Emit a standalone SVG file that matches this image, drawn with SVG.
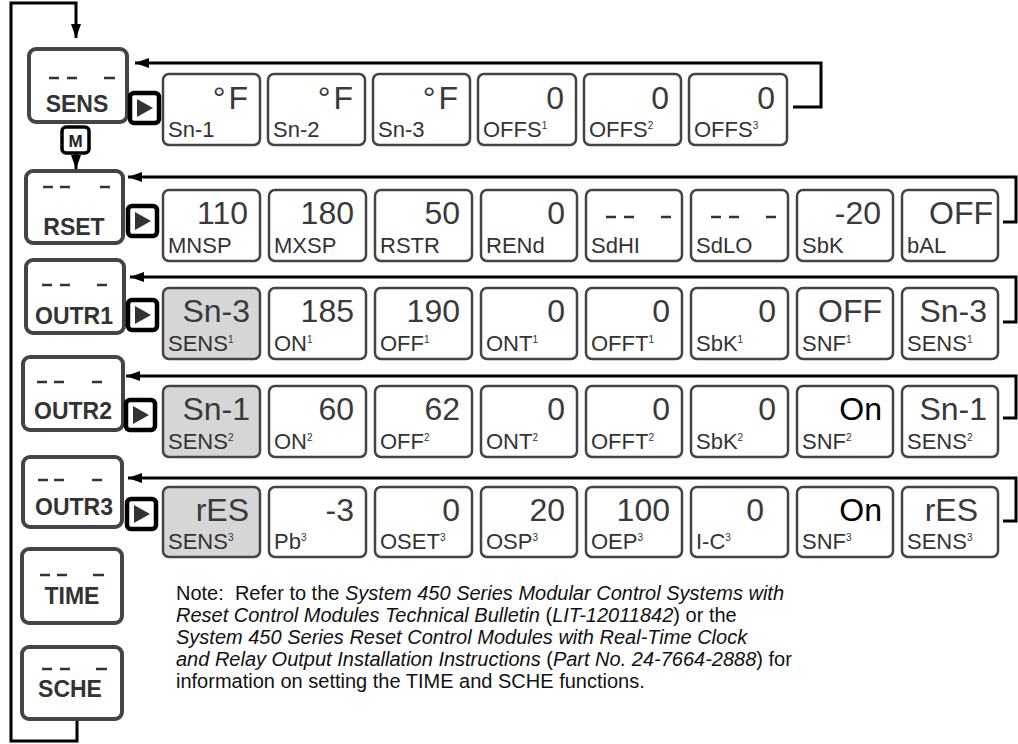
<svg xmlns="http://www.w3.org/2000/svg" width="1018" height="744" viewBox="0 0 1018 744">
<style>
.lb{fill:#fff;stroke:#444;stroke-width:4}
.vb{fill:#fff;stroke:#444;stroke-width:2.5}
.gb{fill:#d6d6d6;stroke:#444;stroke-width:2.5}
.btn{fill:#fff;stroke:#000;stroke-width:4.5}
.tri{fill:#333}
.ln{fill:none;stroke:#000;stroke-width:3}
.dash{fill:none;stroke:#333;stroke-width:2.6}
.ltx{font-family:"Liberation Sans",Arial,sans-serif;font-weight:bold;font-size:23px;fill:#333;text-anchor:middle}
.val{font-family:"Liberation Sans",Arial,sans-serif;font-size:32px;fill:#3a3a3a;text-anchor:end}
.blk{fill:#000}
.lab{font-family:"Liberation Sans",Arial,sans-serif;font-size:22px;fill:#333}
.sup{font-size:10px}
.note{font-family:"Liberation Sans",Arial,sans-serif;font-size:20px;fill:#111}
.it{font-style:italic}
</style>
<defs>
<marker id="ah" viewBox="0 0 14 10" refX="14" refY="5" markerWidth="14" markerHeight="10" markerUnits="userSpaceOnUse" orient="auto">
<path d="M0,0 L14,5 L0,10 z" fill="#000"/>
</marker>
<g id="btn">
<rect class="btn" x="0" y="0" width="29" height="30" rx="4"/>
<path class="tri" d="M7,6 L7,24 L23,15 z"/>
</g>
</defs>

<g id="connectors">
<polyline class="ln" points="77,719 77,741 11,741 11,3 76,3 76,38" marker-end="url(#ah)"/>
<line class="ln" x1="76" y1="153" x2="76" y2="169" marker-end="url(#ah)"/>
<polyline class="ln" points="793,107 821,107 821,63 135,63" marker-end="url(#ah)"/>
<polyline class="ln" points="1003,222 1016,222 1016,177 128,177" marker-end="url(#ah)"/>
<polyline class="ln" points="1003,322 1016,322 1016,277 130,277" marker-end="url(#ah)"/>
<polyline class="ln" points="1003,418 1016,418 1016,376 126,376" marker-end="url(#ah)"/>
<polyline class="ln" points="1003,521 1016,521 1016,478 128,478" marker-end="url(#ah)"/>
</g>

<!-- left menu boxes -->
<g id="sens">
<rect class="lb" x="29" y="49" width="98" height="73" rx="7"/>
<path class="dash" d="M49,78 h10 M67,78 h10 M104,78 h11"/>
<text class="ltx" x="77" y="112">SENS</text>
</g>
<g id="m-button">
<rect x="62" y="127" width="27" height="26" rx="4" fill="#fff" stroke="#000" stroke-width="3.5"/>
<text x="75.5" y="147" font-family="Liberation Sans,Arial,sans-serif" font-weight="bold" font-size="17" fill="#222" text-anchor="middle">M</text>
</g>
<g id="rset">
<rect class="lb" x="26" y="171" width="97" height="72" rx="7"/>
<path class="dash" d="M43,187 h10 M60,187 h10 M100,187 h10"/>
<text class="ltx" x="74" y="235">RSET</text>
</g>
<g id="outr1">
<rect class="lb" x="26" y="260" width="98" height="73" rx="7"/>
<path class="dash" d="M42,285 h10 M60,285 h10 M97,285 h10"/>
<text class="ltx" x="74" y="324">OUTR1</text>
</g>
<g id="outr2">
<rect class="lb" x="23" y="357" width="100" height="73" rx="7"/>
<path class="dash" d="M37,382 h10 M54,382 h10 M92,382 h10"/>
<text class="ltx" x="73" y="419">OUTR2</text>
</g>
<g id="outr3">
<rect class="lb" x="23" y="457" width="99" height="70" rx="7"/>
<path class="dash" d="M38,480 h10 M54,480 h10 M92,480 h10"/>
<text class="ltx" x="74" y="515">OUTR3</text>
</g>
<g id="time">
<rect class="lb" x="22" y="549" width="100" height="74" rx="7"/>
<path class="dash" d="M40,575 h10 M57,575 h10 M93,575 h11"/>
<text class="ltx" x="72" y="604">TIME</text>
</g>
<g id="sche">
<rect class="lb" x="22" y="647" width="100" height="72" rx="7"/>
<path class="dash" d="M42,669 h10 M60,669 h10 M96,669 h11"/>
<text class="ltx" x="70" y="697">SCHE</text>
</g>

<!-- arrow buttons -->
<g id="btn1"><use href="#btn" x="130" y="93"/></g>
<g id="btn2"><use href="#btn" x="128" y="206"/></g>
<g id="btn3"><use href="#btn" x="128" y="300"/></g>
<g id="btn4"><use href="#btn" x="126" y="400"/></g>
<g id="btn5"><use href="#btn" x="127" y="499"/></g>

<!-- row 1 -->
<g id="sn-1"><rect class="vb" x="163" y="74" width="97" height="71" rx="6"/><text class="val" x="248" y="109"><tspan>°</tspan><tspan dx="3">F</tspan></text><text class="lab" x="168" y="137">Sn-1</text></g>
<g id="sn-2"><rect class="vb" x="268" y="74" width="97" height="71" rx="6"/><text class="val" x="353" y="109"><tspan>°</tspan><tspan dx="3">F</tspan></text><text class="lab" x="273" y="137">Sn-2</text></g>
<g id="sn-3"><rect class="vb" x="373" y="74" width="97" height="71" rx="6"/><text class="val" x="458" y="109"><tspan>°</tspan><tspan dx="3">F</tspan></text><text class="lab" x="378" y="137">Sn-3</text></g>
<g id="offs1"><rect class="vb" x="478" y="74" width="98" height="71" rx="6"/><text class="val" x="564" y="109">0</text><text class="lab" x="483" y="137">OFFS<tspan class="sup" dy="-8">1</tspan></text></g>
<g id="offs2"><rect class="vb" x="584" y="74" width="97" height="71" rx="6"/><text class="val" x="669" y="109">0</text><text class="lab" x="589" y="137">OFFS<tspan class="sup" dy="-8">2</tspan></text></g>
<g id="offs3"><rect class="vb" x="689" y="74" width="98" height="71" rx="6"/><text class="val" x="775" y="109">0</text><text class="lab" x="694" y="137">OFFS<tspan class="sup" dy="-8">3</tspan></text></g>

<!-- row 2 -->
<g id="mnsp"><rect class="vb" x="163" y="190" width="97" height="71" rx="6"/><text class="val" x="248" y="224">110</text><text class="lab" x="168" y="253">MNSP</text></g>
<g id="mxsp"><rect class="vb" x="269" y="190" width="97" height="71" rx="6"/><text class="val" x="354" y="224">180</text><text class="lab" x="274" y="253">MXSP</text></g>
<g id="rstr"><rect class="vb" x="375" y="190" width="97" height="71" rx="6"/><text class="val" x="460" y="224">50</text><text class="lab" x="380" y="253">RSTR</text></g>
<g id="rend"><rect class="vb" x="481" y="190" width="96" height="71" rx="6"/><text class="val" x="565" y="224">0</text><text class="lab" x="486" y="253">RENd</text></g>
<g id="sdhi"><rect class="vb" x="586" y="190" width="96" height="71" rx="6"/><path class="dash" d="M606,217 h10 M624,217 h10 M661,217 h10"/><text class="lab" x="591" y="253">SdHI</text></g>
<g id="sdlo"><rect class="vb" x="691" y="190" width="97" height="71" rx="6"/><path class="dash" d="M711,217 h10 M729,217 h10 M766,217 h10"/><text class="lab" x="696" y="253">SdLO</text></g>
<g id="sbk"><rect class="vb" x="797" y="190" width="96" height="71" rx="6"/><text class="val" x="881" y="224">-20</text><text class="lab" x="802" y="253">SbK</text></g>
<g id="bal"><rect class="vb" x="902" y="190" width="96" height="71" rx="6"/><text class="val" x="993" y="224">OFF</text><text class="lab" x="907" y="253">bAL</text></g>

<!-- row 3 -->
<g id="sens1a"><rect class="gb" x="163" y="288" width="97" height="71" rx="6"/><text class="val" x="250" y="322">Sn-3</text><text class="lab" x="168" y="351">SENS<tspan class="sup" dy="-8">1</tspan></text></g>
<g id="on1"><rect class="vb" x="269" y="288" width="97" height="71" rx="6"/><text class="val" x="354" y="322">185</text><text class="lab" x="274" y="351">ON<tspan class="sup" dy="-8">1</tspan></text></g>
<g id="off1"><rect class="vb" x="375" y="288" width="97" height="71" rx="6"/><text class="val" x="460" y="322">190</text><text class="lab" x="380" y="351">OFF<tspan class="sup" dy="-8">1</tspan></text></g>
<g id="ont1"><rect class="vb" x="481" y="288" width="96" height="71" rx="6"/><text class="val" x="565" y="322">0</text><text class="lab" x="486" y="351">ONT<tspan class="sup" dy="-8">1</tspan></text></g>
<g id="offt1"><rect class="vb" x="586" y="288" width="96" height="71" rx="6"/><text class="val" x="670" y="322">0</text><text class="lab" x="591" y="351">OFFT<tspan class="sup" dy="-8">1</tspan></text></g>
<g id="sbk1"><rect class="vb" x="691" y="288" width="97" height="71" rx="6"/><text class="val" x="776" y="322">0</text><text class="lab" x="696" y="351">SbK<tspan class="sup" dy="-8">1</tspan></text></g>
<g id="snf1"><rect class="vb" x="797" y="288" width="96" height="71" rx="6"/><text class="val" x="882" y="322">OFF</text><text class="lab" x="802" y="351">SNF<tspan class="sup" dy="-8">1</tspan></text></g>
<g id="sens1b"><rect class="vb" x="902" y="288" width="96" height="71" rx="6"/><text class="val" x="987" y="322">Sn-3</text><text class="lab" x="907" y="351">SENS<tspan class="sup" dy="-8">1</tspan></text></g>

<!-- row 4 -->
<g id="sens2a"><rect class="gb" x="163" y="386" width="97" height="71" rx="6"/><text class="val" x="250" y="420">Sn-1</text><text class="lab" x="168" y="449">SENS<tspan class="sup" dy="-8">2</tspan></text></g>
<g id="on2"><rect class="vb" x="269" y="386" width="97" height="71" rx="6"/><text class="val" x="354" y="420">60</text><text class="lab" x="274" y="449">ON<tspan class="sup" dy="-8">2</tspan></text></g>
<g id="off2"><rect class="vb" x="375" y="386" width="97" height="71" rx="6"/><text class="val" x="460" y="420">62</text><text class="lab" x="380" y="449">OFF<tspan class="sup" dy="-8">2</tspan></text></g>
<g id="ont2"><rect class="vb" x="481" y="386" width="96" height="71" rx="6"/><text class="val" x="565" y="420">0</text><text class="lab" x="486" y="449">ONT<tspan class="sup" dy="-8">2</tspan></text></g>
<g id="offt2"><rect class="vb" x="586" y="386" width="96" height="71" rx="6"/><text class="val" x="670" y="420">0</text><text class="lab" x="591" y="449">OFFT<tspan class="sup" dy="-8">2</tspan></text></g>
<g id="sbk2"><rect class="vb" x="691" y="386" width="97" height="71" rx="6"/><text class="val" x="776" y="420">0</text><text class="lab" x="696" y="449">SbK<tspan class="sup" dy="-8">2</tspan></text></g>
<g id="snf2"><rect class="vb" x="797" y="386" width="96" height="71" rx="6"/><text class="val blk" x="882" y="420">On</text><text class="lab" x="802" y="449">SNF<tspan class="sup" dy="-8">2</tspan></text></g>
<g id="sens2b"><rect class="vb" x="902" y="386" width="96" height="71" rx="6"/><text class="val" x="987" y="420">Sn-1</text><text class="lab" x="907" y="449">SENS<tspan class="sup" dy="-8">2</tspan></text></g>

<!-- row 5 -->
<g id="sens3a"><rect class="gb" x="163" y="487" width="97" height="70" rx="6"/><text class="val" x="249" y="521">rES</text><text class="lab" x="168" y="549">SENS<tspan class="sup" dy="-8">3</tspan></text></g>
<g id="pb3"><rect class="vb" x="269" y="487" width="97" height="70" rx="6"/><text class="val" x="354" y="521">-3</text><text class="lab" x="274" y="549">Pb<tspan class="sup" dy="-8">3</tspan></text></g>
<g id="oset3"><rect class="vb" x="375" y="487" width="97" height="70" rx="6"/><text class="val" x="460" y="521">0</text><text class="lab" x="380" y="549">OSET<tspan class="sup" dy="-8">3</tspan></text></g>
<g id="osp3"><rect class="vb" x="481" y="487" width="96" height="70" rx="6"/><text class="val" x="565" y="521">20</text><text class="lab" x="486" y="549">OSP<tspan class="sup" dy="-8">3</tspan></text></g>
<g id="oep3"><rect class="vb" x="586" y="487" width="96" height="70" rx="6"/><text class="val" x="670" y="521">100</text><text class="lab" x="591" y="549">OEP<tspan class="sup" dy="-8">3</tspan></text></g>
<g id="ic3"><rect class="vb" x="691" y="487" width="97" height="70" rx="6"/><text class="val" x="764" y="521">0</text><text class="lab" x="696" y="549">I-C<tspan class="sup" dy="-8">3</tspan></text></g>
<g id="snf3"><rect class="vb" x="797" y="487" width="96" height="70" rx="6"/><text class="val blk" x="882" y="521">On</text><text class="lab" x="802" y="549">SNF<tspan class="sup" dy="-8">3</tspan></text></g>
<g id="sens3b"><rect class="vb" x="902" y="487" width="96" height="70" rx="6"/><text class="val" x="978" y="521">rES</text><text class="lab" x="907" y="549">SENS<tspan class="sup" dy="-8">3</tspan></text></g>

<!-- note -->
<g id="note">
<text class="note" x="176" y="600" xml:space="preserve">Note:  Refer to the <tspan class="it">System 450 Series Modular Control Systems with</tspan></text>
<text class="note" x="176" y="622"><tspan class="it">Reset Control Modules Technical Bulletin</tspan> (<tspan class="it">LIT-12011842</tspan>) or the</text>
<text class="note" x="176" y="644"><tspan class="it">System 450 Series Reset Control Modules with Real-Time Clock</tspan></text>
<text class="note" x="176" y="666"><tspan class="it">and Relay Output Installation Instructions</tspan> (<tspan class="it">Part No. 24-7664-2888</tspan>) for</text>
<text class="note" x="176" y="688">information on setting the TIME and SCHE functions.</text>
</g>
</svg>
